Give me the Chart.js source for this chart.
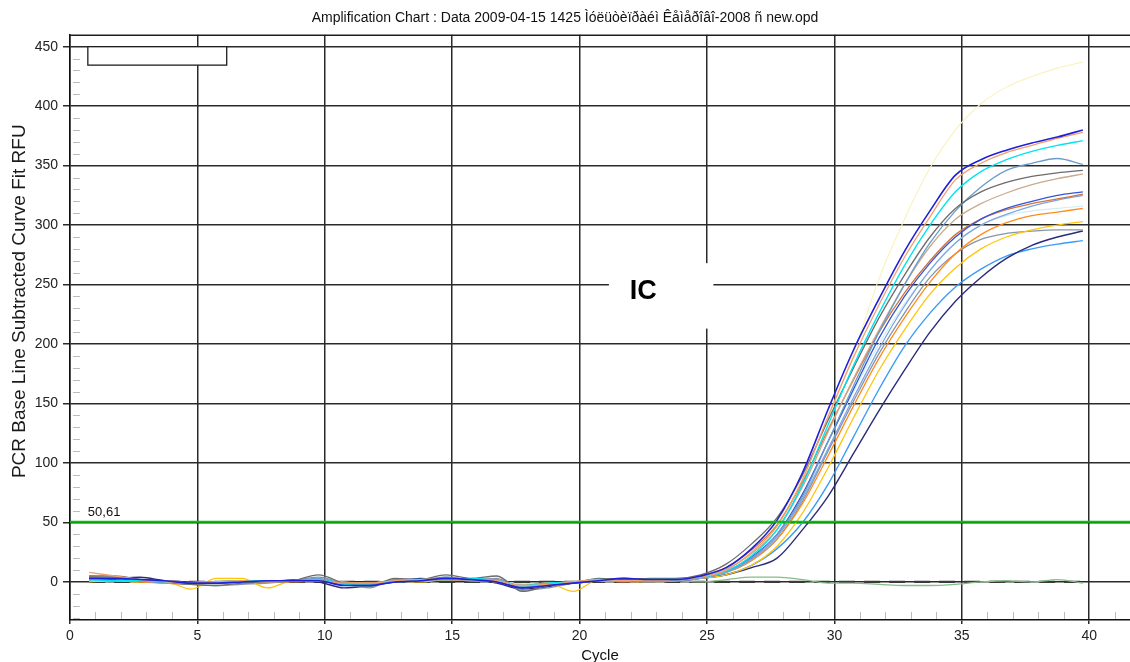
<!DOCTYPE html>
<html>
<head>
<meta charset="utf-8">
<script src="https://cdn.jsdelivr.net/npm/chart.js@4.4.1/dist/chart.umd.min.js"></script>
<style>
  html, body { margin: 0; padding: 0; background: #ffffff; }
  canvas { display: block; }
</style>
</head>
<body>
<canvas id="c" width="1130" height="662"></canvas>
<script>
// ---------- DATA ----------
const chartTitle = 'Amplification Chart : Data 2009-04-15 1425 Ìóëüòèïðàéì Êåìåðîâî-2008 ñ new.opd';
const xTitle = 'Cycle';
const yTitle = 'PCR Base Line Subtracted Curve Fit RFU';

const cycles = [0.75,1.75,2.75,3.75,4.75,5.75,6.75,7.75,8.75,9.75,10.75,11.75,12.75,13.75,14.75,15.75,16.75,17.75,18.75,19.75,
                20.75,21.75,22.75,23.75,24.75,25.75,26.75,27.75,28.75,29.75,30.75,31.75,32.75,33.75,34.75,35.75,36.75,37.75,38.75,39.75];

const xRange = [0, 41.6];
const yRange = [-32, 460];
const xMajor = [0,5,10,15,20,25,30,35,40];
const yMajor = [0,50,100,150,200,250,300,350,400,450];
const xMinor = [1,2,3,4,6,7,8,9,11,12,13,14,16,17,18,19,21,22,23,24,26,27,28,29,31,32,33,34,36,37,38,39,41];
const yMinor = [-30,-20,-10,10,20,30,40,60,70,80,90,110,120,130,140,160,170,180,190,210,220,230,240,260,270,280,290,
                310,320,330,340,360,370,380,390,410,420,430,440];

const threshold = 50.61;
const thresholdLabel = '50,61';
const panelLabel = 'IC';

const paleYellow = [2,2,1,0,-1,0,0,0,1,2,-1,-2,1,1,2,2,1,-3,-2,-1,1,1,1, 2,5,12,27,50,88,138,192,255,305,348,380,402,416,425,432,437];
const blue       = [3,3,2,1,-1,-1,0,1,1,1,-3,-3,0,1,3,2,0,-5,-3,-1,1,3,2, 2,5,12,28,52,92,145,195,238,278,312,342,355,363,369,374,380];
const salmon     = [8,5,2,0,-1,0,1,0,1,1,-1,-1,1,2,3,2,1,-3,-2,0,2,1,1, 2,4,10,25,47,86,139,189,233,273,307,338,352,361,367,373,378];
const cyan       = [2,1,1,0,-1,0,1,1,1,2,-2,-3,1,2,2,3,1,-3,-1,0,2,1,2, 2,4,9,22,44,82,132,182,226,266,300,328,345,355,362,367,371];
const steel      = [4,3,1,0,-2,-1,0,0,1,3,-1,-2,2,1,4,2,2,-4,-3,-1,1,2,1, 2,4,9,20,40,72,118,165,210,250,285,312,332,346,352,356,351];
const gray       = [5,5,2,0,-2,-3,-1,0,1,6,-1,-4,3,2,6,3,5,-8,-3,-1,3,2,3, 3,6,15,32,54,90,136,180,222,258,290,314,328,336,341,344,346];
const tan        = [5,3,1,1,-1,0,0,0,1,1,-1,-2,1,1,2,2,1,-3,-2,0,1,1,2, 2,5,11,24,44,80,126,171,212,250,282,305,318,327,334,339,343];
const royal      = [3,2,1,0,-1,0,0,0,2,2,-2,-2,0,1,3,2,1,-4,-2,-1,2,1,1, 2,4,9,21,40,74,118,162,205,240,268,290,305,314,320,325,328];
const chocolate  = [4,3,1,0,-1,-1,0,0,0,1,-1,-1,1,2,2,2,0,-3,-1,0,2,0,1, 2,5,12,27,48,84,128,170,210,243,270,292,305,313,318,322,326];
const cornflower = [2,2,1,-1,-1,0,1,0,1,2,-2,-3,1,2,3,1,1,-5,-2,-1,1,1,0, 1,3,8,19,38,70,112,155,196,232,262,285,300,309,316,321,325];
const lightCyan  = [1,1,1,0,0,0,0,0,1,1,-1,-1,1,1,2,2,1,-2,-1,0,1,1,1, 2,4,9,21,40,74,118,160,200,234,262,285,300,308,312,314,316];
const darkOrange = [3,2,0,-1,-2,0,1,0,1,1,-1,-1,1,1,2,2,1,-3,-2,-1,1,1,1, 2,4,8,18,36,66,106,148,188,222,252,276,292,302,308,311,314];
const gold       = [0,1,0,0,-6,3,3,-5,1,1,0,-2,1,0,2,2,0,-3,-1,-8,2,1,0, 1,3,6,14,30,58,96,138,178,212,242,264,280,290,296,300,303];
const slate      = [3,4,1,-1,-2,-3,-2,-1,1,4,-1,-5,2,2,4,2,3,-7,-5,-1,2,1,2, 2,4,8,18,36,68,110,152,192,226,256,276,288,293,295,296,296];
const navy       = [2,3,4,1,0,-1,0,1,1,0,-5,-3,0,3,2,2,-1,-6,-4,-1,1,3,2, 1,3,6,12,20,44,72,108,144,178,210,236,256,272,283,290,295];
const dodger     = [3,2,2,0,-1,0,0,0,1,1,-2,-2,0,1,3,1,0,-4,-2,-1,1,2,1, 1,3,6,14,28,50,82,122,162,198,226,248,263,274,280,284,287];
const seaGreen   = [1,2,1,0,-1,0,1,0,1,1,-1,-2,0,1,2,2,1,-2,-1,0,1,1,1,1,0,2,4,4,2,-1,-1,-2,-3,-3,-2,0,1,0,2,-1];
const negCtrl    = [0,0,0,0,0,0,0,0,0,0,0,0,0,0,0,0,0,0,0,0,0,0,0,0,0,0,0,0,0,0,0,0,0,0,0,0,0,0,0,0];

// annotation anchors, in data units
const legendBox = { x0: 0.7, x1: 6.15, y0: 450, y1: 434.5 };
const icBox = { x0: 21.15, x1: 25.25, y0: 268, y1: 213 };
const icText = { x: 22.5, y: 244 };
const thrLabelPos = { x: 0.7 };
const yTitleCenter = 236;

// ---------- CHART ----------
const pts = arr => arr.map((v, i) => ({ x: cycles[i], y: v }));
function line(data, color, width, extra) {
  return Object.assign({ data: pts(data), borderColor: color, borderWidth: width, pointRadius: 0,
    fill: false, cubicInterpolationMode: 'monotone' }, extra || {});
}

const FONT = "'Liberation Sans', Arial, Helvetica, sans-serif";
Chart.defaults.font.family = FONT;

const datasets = [
  { data: [{ x: xRange[0], y: threshold }, { x: xRange[1], y: threshold }], borderColor: '#00c800', borderWidth: 2.2, pointRadius: 0, fill: false },
  line(blue, '#2020d8', 1.6),
  line(salmon, '#f0a070', 1.3),
  line(cyan, '#00e4ef', 1.4),
  line(gray, '#6c6c6c', 1.3),
  line(steel, '#6c9cc8', 1.3),
  line(tan, '#c9aa8e', 1.3),
  line(royal, '#3656d4', 1.3),
  line(chocolate, '#d2753a', 1.3),
  line(cornflower, '#7ea4e4', 1.3),
  line(darkOrange, '#ff8c1c', 1.3),
  line(gold, '#ffc40c', 1.3),
  line(slate, '#8696a8', 1.3),
  line(navy, '#2b2b7c', 1.4),
  line(dodger, '#3a9cf6', 1.4),
  line(lightCyan, '#cdf0f7', 1.2),
  line(paleYellow, '#f8f2bc', 1.1),
  line(seaGreen, '#88bc88', 1.3),
  line(negCtrl, '#3a3a3a', 2.2, { borderDash: [16, 9] })
];

const overlay = {
  id: 'overlay',
  beforeDatasetsDraw(chart) {
    const { ctx, chartArea: a, scales: { x, y } } = chart;
    ctx.save();
    // minor ticks
    ctx.strokeStyle = '#bcbcbc';
    ctx.lineWidth = 1;
    xMinor.forEach(v => {
      const px = Math.round(x.getPixelForValue(v)) + 0.5;
      ctx.beginPath(); ctx.moveTo(px, a.bottom - 1); ctx.lineTo(px, a.bottom - 8); ctx.stroke();
    });
    yMinor.forEach(v => {
      const py = Math.round(y.getPixelForValue(v)) + 0.5;
      ctx.beginPath(); ctx.moveTo(a.left + 3, py); ctx.lineTo(a.left + 10, py); ctx.stroke();
    });
    // top frame
    ctx.strokeStyle = '#1e1e1e';
    ctx.lineWidth = 1.5;
    ctx.beginPath(); ctx.moveTo(a.left, a.top + 0.5); ctx.lineTo(a.right, a.top + 0.5); ctx.stroke();
    // empty legend box
    const lx0 = x.getPixelForValue(legendBox.x0), lx1 = x.getPixelForValue(legendBox.x1);
    const ly0 = y.getPixelForValue(legendBox.y0), ly1 = y.getPixelForValue(legendBox.y1);
    ctx.fillStyle = '#ffffff';
    ctx.fillRect(lx0, ly0, lx1 - lx0, ly1 - ly0);
    ctx.strokeStyle = '#1e1e1e';
    ctx.lineWidth = 1.3;
    ctx.strokeRect(lx0, ly0, lx1 - lx0, ly1 - ly0);
    // IC white box
    const ix0 = x.getPixelForValue(icBox.x0), ix1 = x.getPixelForValue(icBox.x1);
    const iy0 = y.getPixelForValue(icBox.y0), iy1 = y.getPixelForValue(icBox.y1);
    ctx.fillStyle = '#ffffff';
    ctx.fillRect(ix0, iy0, ix1 - ix0, iy1 - iy0);
    ctx.fillStyle = '#000000';
    ctx.font = "bold 27px " + FONT;
    ctx.textAlign = 'center';
    ctx.textBaseline = 'middle';
    ctx.fillText(panelLabel, x.getPixelForValue(icText.x), y.getPixelForValue(icText.y));
    ctx.restore();
  },
  afterDatasetsDraw(chart) {
    const { ctx, chartArea: a, scales: { x, y } } = chart;
    ctx.save();
    ctx.fillStyle = '#111111';
    ctx.font = "13px " + FONT;
    ctx.textAlign = 'left';
    ctx.textBaseline = 'bottom';
    ctx.fillText(thresholdLabel, x.getPixelForValue(thrLabelPos.x), y.getPixelForValue(threshold) - 3);
    // y axis title
    ctx.translate(a.left - 50, y.getPixelForValue(yTitleCenter));
    ctx.rotate(-Math.PI / 2);
    ctx.font = "19px " + FONT;
    ctx.fillStyle = '#1a1a1a';
    ctx.textAlign = 'center';
    ctx.textBaseline = 'middle';
    ctx.fillText(yTitle, 0, 0);
    ctx.restore();
  }
};

new Chart(document.getElementById('c'), {
  type: 'line',
  data: { datasets },
  plugins: [overlay],
  options: {
    responsive: false,
    animation: false,
    events: [],
    layout: { padding: 0 },
    plugins: {
      legend: { display: false },
      tooltip: { enabled: false },
      title: {
        display: true, text: chartTitle, color: '#111111',
        font: { size: 14, weight: 'normal' },
        padding: { top: 10, bottom: 8 }
      }
    },
    scales: {
      x: {
        type: 'linear', min: xRange[0], max: xRange[1],
        afterBuildTicks: s => { s.ticks = xMajor.map(v => ({ value: v })); },
        afterFit: s => { s.height = 42; },
        grid: { color: '#2a2a2a', lineWidth: 1.5, tickLength: 4, tickColor: '#2a2a2a' },
        border: { color: '#111111', width: 1.5 },
        ticks: { color: '#222222', font: { size: 14 }, padding: 4, maxRotation: 0, autoSkip: false },
        title: { display: true, text: xTitle, color: '#111111', font: { size: 15 }, padding: { top: 0, bottom: -3 } }
      },
      y: {
        type: 'linear', min: yRange[0], max: yRange[1],
        afterBuildTicks: s => { s.ticks = yMajor.map(v => ({ value: v })); },
        afterFit: s => { s.width = 70; },
        grid: { color: '#2a2a2a', lineWidth: 1.5, tickLength: 7, tickColor: '#2a2a2a' },
        border: { color: '#111111', width: 1.5 },
        ticks: { color: '#222222', font: { size: 14 }, padding: 5 },
        title: { display: false }
      }
    }
  }
});
</script>
</body>
</html>
